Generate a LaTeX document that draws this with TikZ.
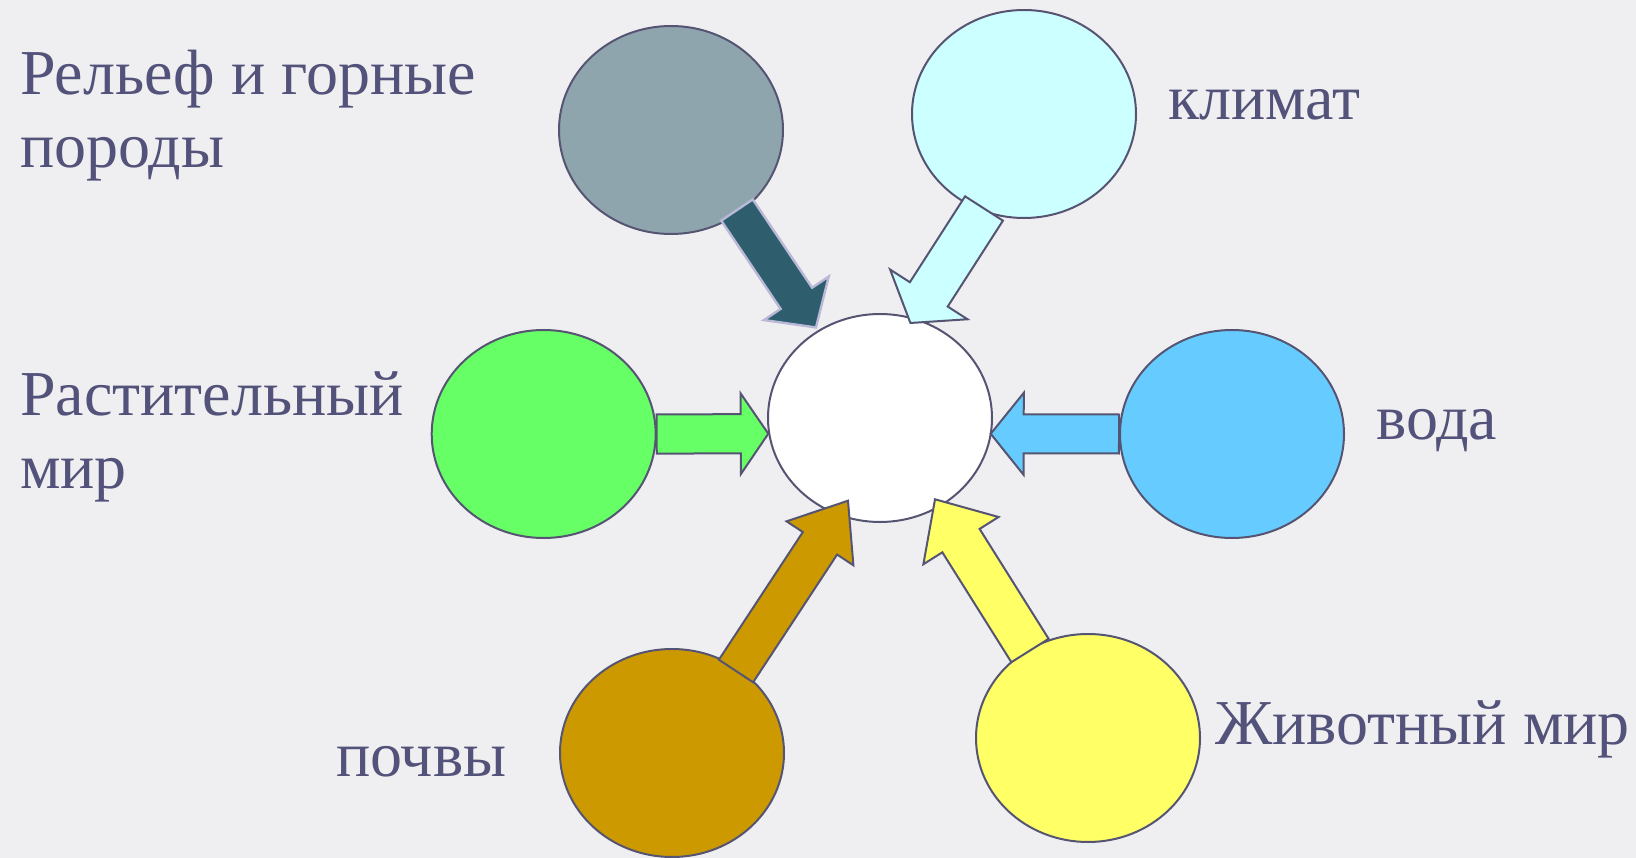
\documentclass[tikz,border=0pt]{standalone}
\usepackage{fontspec}
\setmainfont{Liberation Serif}
\usetikzlibrary{shapes.geometric,calc}
\definecolor{bg}{RGB}{239,239,241}
\definecolor{edge}{RGB}{85,85,115}
\definecolor{txt}{RGB}{82,82,122}
\definecolor{cgray}{RGB}{143,165,173}
\definecolor{cdark}{RGB}{46,94,110}
\definecolor{cdarkedge}{RGB}{185,185,215}
\definecolor{ccyan}{RGB}{204,255,255}
\definecolor{cgreen}{RGB}{102,255,102}
\definecolor{cblue}{RGB}{102,204,255}
\definecolor{cbrown}{RGB}{204,153,0}
\definecolor{cyellow}{RGB}{255,255,102}
% #1 start, #2 tip, #3 shaft half width, #4 head half width, #5 head length, #6 style
\newcommand\myblockarrow[6]{%
  \path let \p1=(#1), \p2=(#2), \n1={atan2(\y2-\y1,\x2-\x1)}, \n2={veclen(\x2-\x1,\y2-\y1)} in
    \pgfextra{\xdef\baang{\n1}\xdef\balen{\n2}};
  \draw[#6, shift={(#1)}, rotate=\baang]
    (0,#3) -- ({\balen-#5},#3) -- ({\balen-#5},#4) -- (\balen,0) --
    ({\balen-#5},-#4) -- ({\balen-#5},-#3) -- (0,-#3) -- cycle;
}
\begin{document}
\begin{tikzpicture}[x=1pt,y=-1pt,
  ell/.style={ellipse, draw=edge, line width=2pt, minimum width=224pt, minimum height=208pt, inner sep=0pt},
  arr/.style={draw=edge, line width=2pt},
  lbl/.style={text=txt, font=\fontsize{64}{73}\selectfont, inner sep=0pt, anchor=base west, align=left}]
\useasboundingbox (0,0) rectangle (1636,858);
\fill[bg] (0,0) rectangle (1636,858);

\node[ell, fill=cgray]   (relief) at (671,130) {};
\node[ell, fill=ccyan]   (climate) at (1024,114) {};
\node[ell, fill=cgreen]  (flora) at (543.7,434) {};
\node[ell, fill=white]   (center) at (880,418) {};
\node[ell, fill=cblue]   (water) at (1232,434) {};
\node[ell, fill=cbrown]  (soil) at (672,753) {};
\node[ell, fill=cyellow] (fauna) at (1088,738) {};

\coordinate (s1) at ($(relief)+(66,80)$);
\coordinate (t1) at ($(center)+(-64,-90.5)$);
\coordinate (s2) at ($(climate)+(-40,94.5)$);
\coordinate (t2) at ($(center)+(30.4,-95)$);
\coordinate (s3) at (flora.east);
\coordinate (t3) at ($(center)+(-111.7,15.7)$);
\coordinate (s4) at (water.west);
\coordinate (t4) at ($(center)+(110.7,15.8)$);
\coordinate (s5) at ($(soil)+(64,-82)$);
\coordinate (t5) at ($(center)+(-32,82.7)$);
\coordinate (s6) at ($(fauna)+(-58,-87.5)$);
\coordinate (t6) at ($(center)+(55,81.3)$);

\myblockarrow{s1}{t1}{19}{39}{35.2}{arr, fill=cdark, draw=cdarkedge, line width=2.4pt}
\myblockarrow{s2}{t2}{22.5}{46}{34}{arr, fill=ccyan}
\myblockarrow{s3}{t3}{19.6}{40.4}{27.6}{arr, fill=cgreen}
\myblockarrow{s4}{t4}{19.5}{41}{33}{arr, fill=cblue}
\myblockarrow{s5}{t5}{20.5}{40}{51}{arr, fill=cbrown}
\myblockarrow{s6}{t6}{22}{44.4}{48.8}{arr, fill=cyellow}

\node[lbl] (trelief) at (20,168) {Рельеф и горные\\породы};
\node[lbl] (tflora) at (20,488) {Растительный\\мир};
\node[lbl] (tclimate) at (1168,120) {климат};
\node[lbl] (twater) at (1376,439) {вода};
\node[lbl] (tsoil) at (336,776) {почвы};
\node[lbl] (tfauna) at (1215,744) {Животный мир};
\end{tikzpicture}
\end{document}
